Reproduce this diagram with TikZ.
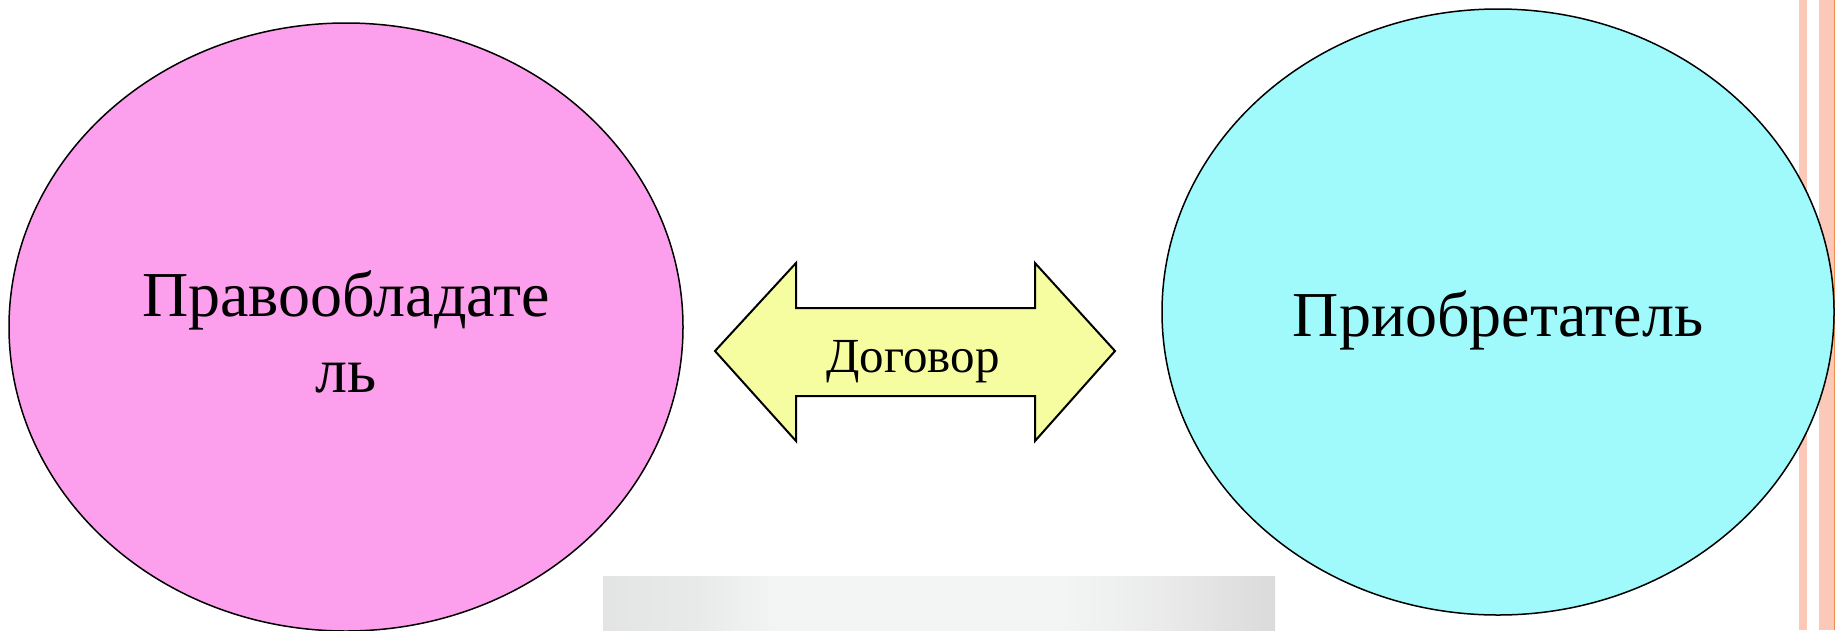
\documentclass[tikz,border=0pt]{standalone}
\usepackage{fontspec}
\setmainfont{Liberation Serif}
\usetikzlibrary{shapes.geometric}
\definecolor{pinkfill}{HTML}{FC9FEC}
\definecolor{cyanfill}{HTML}{A0FAFC}
\definecolor{yellowfill}{HTML}{F6FCA0}
\definecolor{peach}{HTML}{FCC8B8}
\definecolor{orangeline}{HTML}{F08A4A}
\definecolor{gA}{HTML}{D6D6D6}
\definecolor{gB}{HTML}{DCDCDC}
\definecolor{gC}{HTML}{E1E1E1}
\definecolor{gD}{HTML}{E8EAEA}
\definecolor{gE}{HTML}{F3F5F5}
\definecolor{gF}{HTML}{EAEAEA}
\definecolor{gG}{HTML}{D4D4D4}
\definecolor{gH}{HTML}{A0A0A0}
\definecolor{gI}{HTML}{E3E7E9}
\pgfdeclarehorizontalshading{grayband}{100bp}{
  color(0bp)=(gA);
  color(8.5bp)=(gB);
  color(22bp)=(gC);
  color(32bp)=(gD);
  color(38bp)=(gE);
  color(59bp)=(gE);
  color(67bp)=(gF);
  color(74bp)=(gB);
  color(91.5bp)=(gG);
  color(92.7bp)=(gH);
  color(94bp)=(gI);
  color(100bp)=(gI)}
\tikzset{
  party/.style={ellipse, draw=black, line width=1.5pt, inner sep=0pt},
  bigtext/.style={font=\fontsize{64}{74}\selectfont, anchor=base, inner sep=0pt},
  arrowtext/.style={font=\fontsize{49}{56}\selectfont, anchor=base, inner sep=0pt},
}
\begin{document}
\begin{tikzpicture}[x=1pt, y=-1pt]
\useasboundingbox (0,0) rectangle (1835,630);
\fill[white] (0,0) rectangle (1835,630);
% right margin stripes
\fill[peach] (1799,0) rectangle (1807,630);
\fill[peach] (1819,0) rectangle (1834,630);
\fill[orangeline] (1834,0) rectangle (1835,630);
% gray picture strip
\shade[shading=grayband] (603,576) rectangle (1275,630);
% ellipses
\node[party, fill=pinkfill, minimum width=674pt, minimum height=608pt] (owner) at (346,327) {};
\node[party, fill=cyanfill, minimum width=672pt, minimum height=606pt] (buyer) at (1498,312) {};
\node[bigtext] (ownerA) at (346,316) {Правообладате};
\node[bigtext] (ownerB) at (346,392) {ль};
\node[bigtext] (buyerT) at (1498,336) {Приобретатель};
% double arrow
\draw[fill=yellowfill, line width=2pt, line join=miter]
  (715,351) -- (796,263) -- (796,308) -- (1035,308) -- (1035,263) -- (1115,351)
  -- (1035,441) -- (1035,396) -- (796,396) -- (796,441) -- cycle;
\node[arrowtext] (deal) at (913,372) {Договор};
\end{tikzpicture}
\end{document}
